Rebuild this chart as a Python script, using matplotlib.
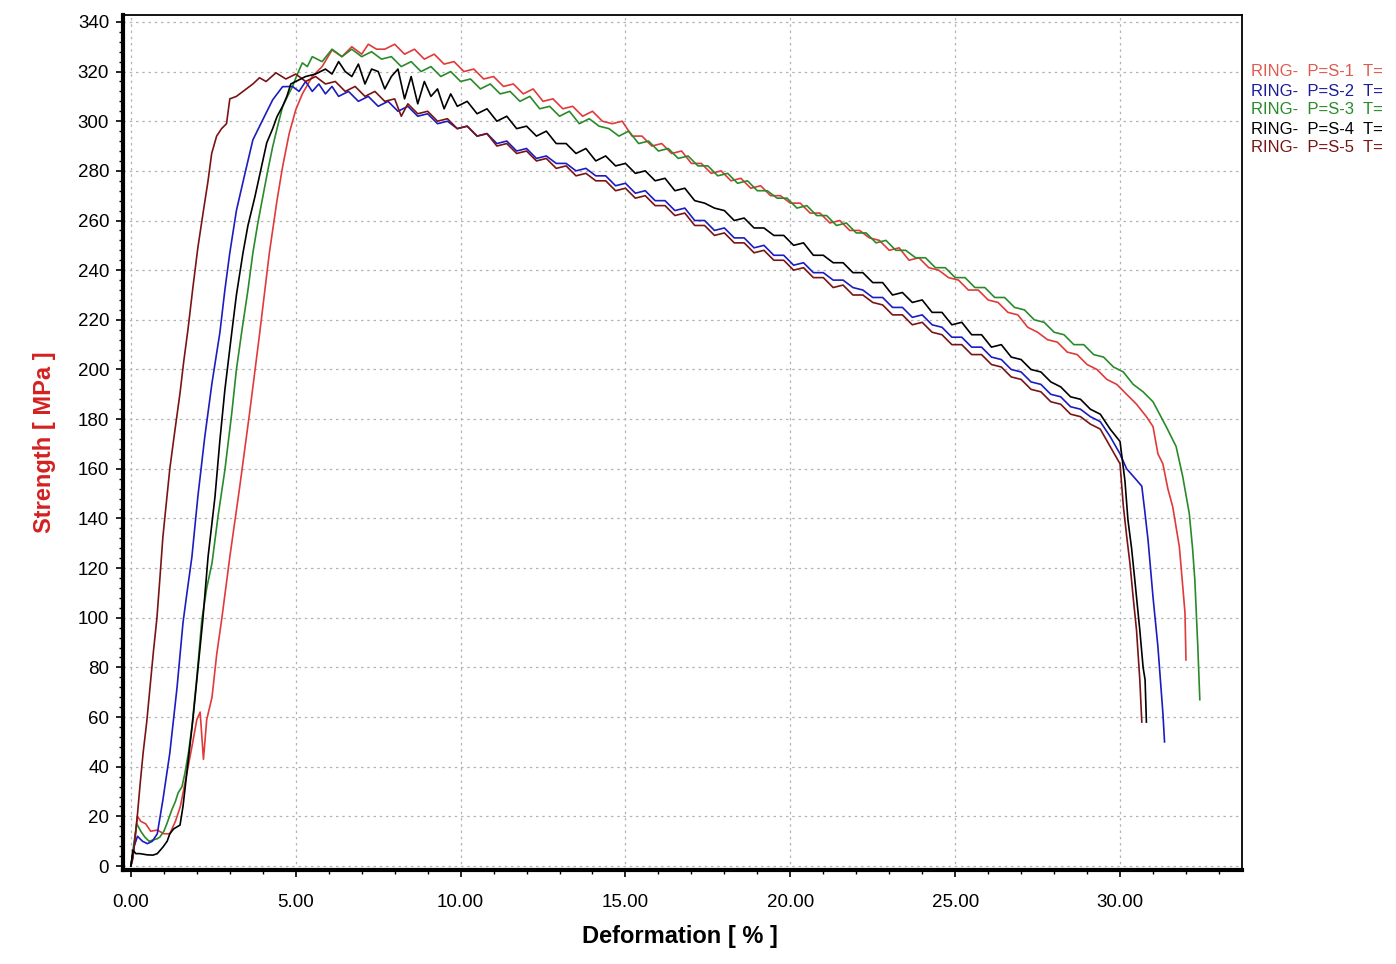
import matplotlib
matplotlib.use("Agg")
import matplotlib.pyplot as plt
from matplotlib.ticker import MultipleLocator, FormatStrFormatter

plt.rcParams["font.family"] = ["Liberation Sans", "DejaVu Sans"]

# ring test curves, deformation [%] vs strength [MPa]
s1_x = [0, 0.1, 0.2, 0.3, 0.45, 0.6, 0.8, 1.0, 1.18, 1.35, 1.5, 1.7, 1.85, 2.0, 2.1, 2.2,
        2.3, 2.46, 2.6, 2.76, 3.0, 3.3, 3.6, 3.9, 4.2, 4.43, 4.6, 4.8, 5.0, 5.2, 5.5, 5.8,
        6.1, 6.4, 6.7, 7.0, 7.2, 7.45,
        7.7, 8.0, 8.3, 8.6, 8.9, 9.2, 9.5, 9.8, 10.1, 10.4, 10.7, 11.0, 11.3, 11.6, 11.9,
        12.2, 12.5, 12.8, 13.1, 13.4, 13.7, 14.0, 14.3, 14.6, 14.9, 15.2, 15.5, 15.8, 16.1,
        16.4, 16.7, 17.0, 17.3, 17.6, 17.9, 18.2, 18.5, 18.8, 19.1, 19.4, 19.7, 20.0, 20.3,
        20.6, 20.9, 21.2, 21.5, 21.8, 22.1, 22.4, 22.7, 23.0, 23.3, 23.6, 23.9, 24.2, 24.5,
        24.8, 25.1, 25.4, 25.7, 26.0, 26.3, 26.6, 26.9, 27.2, 27.5, 27.8, 28.1, 28.4, 28.7,
        29.0, 29.3, 29.6, 29.9, 30.2, 30.5, 30.8, 31.0,
        31.15, 31.3, 31.45, 31.6, 31.8, 31.9, 31.97, 32.0]
s1_y = [0, 8, 20, 18, 17, 14, 14.5, 13, 13, 18, 24, 37.5, 48, 59, 62, 43,
        59, 68, 85, 100, 124.5, 152.7, 182.5, 214, 247, 268, 281.6, 295, 304.6, 311, 318, 322,
        328.7, 326, 330, 327, 331, 329,
        329, 331, 327, 329, 325, 327, 323, 324, 320, 321, 317, 318, 314, 315, 311,
        313, 308, 309, 305, 306, 302, 304, 300, 299, 300, 294, 294, 290, 291,
        287, 288, 283, 283, 279, 280, 276, 277, 273, 274, 270, 270, 267, 267,
        263, 263, 259, 260, 256, 256, 253, 252, 248, 249, 244, 245, 241, 240,
        237, 236, 232, 232, 228, 227, 223, 222, 217, 215, 212, 211, 207, 206,
        202, 200, 196, 194, 190, 186, 181, 177,
        166, 162, 152, 144.6, 128.5, 113, 102, 83]

s2_x = [0, 0.1, 0.2, 0.35, 0.5, 0.65, 0.8, 0.97, 1.18, 1.4, 1.58, 1.7, 1.85, 2.03, 2.24,
        2.46, 2.7, 2.85, 3.0, 3.2, 3.46, 3.7, 4.0, 4.3, 4.6,
        4.9, 5.1, 5.3, 5.5, 5.7, 5.9, 6.1, 6.3, 6.6, 6.9, 7.2, 7.5, 7.8, 8.1, 8.4, 8.7, 9.0,
        9.3, 9.6, 9.9, 10.2, 10.5, 10.8, 11.1, 11.4, 11.7, 12.0, 12.3, 12.6, 12.9, 13.2,
        13.5, 13.8, 14.1, 14.4, 14.7, 15.0, 15.3, 15.6, 15.9, 16.2, 16.5, 16.8, 17.1, 17.4,
        17.7, 18.0, 18.3, 18.6, 18.9, 19.2, 19.5, 19.8, 20.1, 20.4, 20.7, 21.0, 21.3, 21.6,
        21.9, 22.2, 22.5, 22.8, 23.1, 23.4, 23.7, 24.0, 24.3, 24.6, 24.9, 25.2, 25.5, 25.8,
        26.1, 26.4, 26.7, 27.0, 27.3, 27.6, 27.9, 28.2, 28.5, 28.8, 29.1, 29.4, 29.7, 30.0,
        30.2, 30.4, 30.66, 30.75, 30.85, 31.0, 31.15, 31.3, 31.35]
s2_y = [0, 8, 12, 10, 9, 10, 13, 26.6, 45.5, 72, 98, 110, 124.5, 148.7, 172.8,
        194.6, 215, 232, 247, 264, 279, 292.5, 300.6, 308.6, 313.9,
        314, 312, 316, 312, 315, 311, 314, 310, 312, 308, 310, 306, 308, 304, 306, 302, 303,
        299, 300, 297, 298, 294, 295, 291, 292, 288, 289, 285, 286, 283, 283,
        280, 281, 278, 278, 274, 275, 271, 272, 268, 268, 264, 265, 260, 260,
        256, 257, 253, 253, 249, 250, 246, 246, 242, 243, 239, 239, 236, 236,
        233, 232, 229, 229, 225, 225, 221, 222, 218, 217, 213, 213, 209, 209,
        205, 204, 200, 199, 195, 194, 190, 189, 185, 184, 181, 179, 173, 166,
        160, 157, 153, 143, 131.3, 108.4, 88.2, 61.6, 50]

s3_x = [0, 0.1, 0.18, 0.3, 0.42, 0.55, 0.67, 0.8, 0.88, 1.0, 1.09, 1.24, 1.35, 1.43, 1.55,
        1.64, 1.75, 1.85, 2.0, 2.15, 2.3, 2.46, 2.64, 2.85, 3.06, 3.2, 3.37, 3.55, 3.7, 3.85,
        4.0, 4.15, 4.3, 4.45, 4.6, 4.75, 4.9, 5.05, 5.2, 5.35,
        5.5, 5.8, 6.1, 6.4, 6.7, 7.0, 7.3, 7.6, 7.9, 8.2, 8.5, 8.8, 9.1, 9.4, 9.7, 10.0,
        10.3, 10.6, 10.9, 11.2, 11.5, 11.8, 12.1, 12.4, 12.7, 13.0, 13.3, 13.6, 13.9, 14.2,
        14.5, 14.8, 15.1, 15.4, 15.7, 16.0, 16.3, 16.6, 16.9, 17.2, 17.5, 17.8, 18.1, 18.4,
        18.7, 19.0, 19.3, 19.6, 19.9, 20.2, 20.5, 20.8, 21.1, 21.4, 21.7, 22.0, 22.3, 22.6,
        22.9, 23.2, 23.5, 23.8, 24.1, 24.4, 24.7, 25.0, 25.3, 25.6, 25.9, 26.2, 26.5, 26.8,
        27.1, 27.4, 27.7, 28.0, 28.3, 28.6, 28.9, 29.2, 29.5, 29.8, 30.1, 30.4, 30.7, 31.0,
        31.2, 31.4, 31.7, 31.9, 32.1, 32.2, 32.27, 32.32, 32.36, 32.42]
s3_y = [0, 10, 17, 14, 11.7, 10, 10.5, 11, 11.7, 14, 17, 22.6, 26, 29.4, 32,
        37.5, 46, 56, 76, 99, 112, 122, 140.6, 159.5, 182.5, 200, 216, 232, 247, 259,
        269.5, 280, 289.7, 298, 305.8, 310, 313.9, 319, 323.5, 322,
        326, 324, 329, 326, 329, 326, 328, 325, 326, 322, 324, 320, 322, 318, 320, 316,
        317, 313, 315, 311, 312, 308, 310, 305, 306, 302, 304, 299, 301, 298,
        297, 294, 296, 291, 292, 288, 289, 285, 286, 282, 282, 278, 279, 275,
        276, 272, 272, 269, 269, 265, 266, 262, 262, 258, 259, 255, 255, 251,
        252, 248, 248, 245, 245, 241, 241, 237, 237, 233, 233, 229, 229, 225,
        224, 220, 219, 215, 214, 210, 210, 206, 205, 201, 199, 194, 191, 187,
        182, 177, 169, 157, 142, 128, 115, 100, 88, 67]

s4_x = [0, 0.03, 0.06, 0.15, 0.27, 0.5, 0.67, 0.8, 0.97, 1.1, 1.18, 1.3, 1.49, 1.58, 1.65,
        1.73, 1.88, 2.03, 2.18, 2.34, 2.45, 2.55, 2.7, 2.85, 2.95, 3.06, 3.2, 3.4, 3.55, 3.76,
        3.95, 4.12, 4.3, 4.43, 4.6, 4.73, 4.85,
        5.0, 5.3, 5.6, 5.9, 6.1, 6.3, 6.5, 6.7, 6.9, 7.1, 7.3, 7.5, 7.7, 7.9, 8.1, 8.3, 8.5,
        8.7, 8.9, 9.1, 9.3, 9.5, 9.7, 9.9, 10.2, 10.5, 10.8, 11.1, 11.4, 11.7, 12.0, 12.3,
        12.6, 12.9, 13.2, 13.5, 13.8, 14.1, 14.4, 14.7, 15.0, 15.3, 15.6, 15.9, 16.2, 16.5,
        16.8, 17.1, 17.4, 17.7, 18.0, 18.3, 18.6, 18.9, 19.2, 19.5, 19.8, 20.1, 20.4, 20.7,
        21.0, 21.3, 21.6, 21.9, 22.2, 22.5, 22.8, 23.1, 23.4, 23.7, 24.0, 24.3, 24.6, 24.9,
        25.2, 25.5, 25.8, 26.1, 26.4, 26.7, 27.0, 27.3, 27.6, 27.9, 28.2, 28.5, 28.8, 29.1,
        29.4, 29.7, 30.0,
        30.15, 30.24, 30.35, 30.45, 30.6, 30.7, 30.76, 30.8]
s4_y = [0, 3, 6.4, 5, 5, 4.5, 4.4, 5, 7.6, 10, 13, 15, 16.5, 24, 32,
        41.5, 59, 79, 99, 124.5, 137, 148.7, 171.6, 191.8, 203, 215, 230, 247, 258, 269.5,
        281, 291.3, 297, 301.8, 306, 310, 315,
        316, 318, 319, 321, 319, 324, 320, 318, 323, 315, 321, 320, 313, 318, 321, 309, 318,
        307, 316, 310, 313, 305, 311, 306, 308, 303, 305, 300, 302, 297, 298, 294,
        296, 291, 291, 287, 289, 284, 286, 282, 283, 279, 280, 276, 277, 272,
        273, 268, 267, 265, 264, 260, 261, 257, 257, 254, 254, 250, 251, 246,
        246, 243, 243, 239, 239, 235, 235, 230, 231, 227, 228, 223, 223, 218,
        219, 214, 214, 209, 210, 205, 204, 200, 199, 195, 193, 189, 188, 184,
        182, 176, 171,
        155, 139.4, 128, 115, 95, 80, 75, 58]

s5_x = [0, 0.06, 0.2, 0.28, 0.37, 0.48, 0.58, 0.68, 0.79, 0.88, 0.97, 1.08, 1.18, 1.33,
        1.49, 1.6, 1.73, 1.88, 2.03, 2.2, 2.34, 2.45, 2.6, 2.75, 2.9, 3.0, 3.2, 3.5, 3.7,
        3.9, 4.1,
        4.4, 4.7, 5.0, 5.3, 5.6, 5.9, 6.2, 6.5, 6.8, 7.1, 7.4, 7.7, 8.0, 8.2, 8.4, 8.7, 9.0,
        9.3, 9.6, 9.9, 10.2, 10.5, 10.8, 11.1, 11.4, 11.7, 12.0, 12.3, 12.6, 12.9, 13.2,
        13.5, 13.8, 14.1, 14.4, 14.7, 15.0, 15.3, 15.6, 15.9, 16.2, 16.5, 16.8, 17.1, 17.4,
        17.7, 18.0, 18.3, 18.6, 18.9, 19.2, 19.5, 19.8, 20.1, 20.4, 20.7, 21.0, 21.3, 21.6,
        21.9, 22.2, 22.5, 22.8, 23.1, 23.4, 23.7, 24.0, 24.3, 24.6, 24.9, 25.2, 25.5, 25.8,
        26.1, 26.4, 26.7, 27.0, 27.3, 27.6, 27.9, 28.2, 28.5, 28.8, 29.1, 29.4, 29.7, 30.0,
        30.1, 30.2, 30.3, 30.4, 30.5, 30.6, 30.66]
s5_y = [0, 3, 21, 33, 45.5, 58, 72, 86, 100, 116, 132.5, 147, 160, 175,
        190.5, 203, 216, 233, 249, 264, 276, 287, 294, 297, 299, 309, 310, 313, 315,
        317.5, 316,
        319.5, 317, 319, 316, 318, 315, 316, 312, 314, 310, 312, 308, 309, 302, 307, 303, 304,
        300, 301, 297, 298, 294, 295, 290, 291, 287, 288, 284, 285, 281, 282,
        278, 279, 276, 276, 272, 273, 269, 270, 266, 266, 262, 263, 258, 258,
        254, 255, 251, 251, 247, 248, 244, 244, 240, 241, 237, 237, 233, 234,
        230, 230, 227, 226, 222, 222, 218, 219, 215, 214, 210, 210, 206, 206,
        202, 201, 197, 196, 192, 191, 187, 186, 182, 181, 178, 176, 169, 162,
        145, 133, 122, 108, 95, 75, 58]

labels = ["RING-  P=S-1  T=", "RING-  P=S-2  T=", "RING-  P=S-3  T=",
          "RING-  P=S-4  T=", "RING-  P=S-5  T="]
colors = ["#e03a3a", "#1c1cc0", "#2a8a2a", "#000000", "#7a1414"]
text_colors = ["#e05a50", "#1c1c9a", "#2a8a2a", "#000000", "#7a1414"]

fig = plt.figure(figsize=(13.96, 9.64), dpi=100)
ax = fig.add_axes([0.0881, 0.0975, 0.8016, 0.887])

series = [(s1_x, s1_y), (s2_x, s2_y), (s3_x, s3_y), (s4_x, s4_y), (s5_x, s5_y)]
for i in [0, 2, 1, 4, 3]:
    ax.plot(series[i][0], series[i][1], color=colors[i], lw=1.2, zorder=3)

ax.set_xlim(-0.24, 33.7)
ax.set_ylim(-1.6, 342.8)
ax.xaxis.set_major_locator(MultipleLocator(5))
ax.xaxis.set_minor_locator(MultipleLocator(1))
ax.yaxis.set_major_locator(MultipleLocator(20))
ax.yaxis.set_minor_locator(MultipleLocator(4))
ax.xaxis.set_major_formatter(FormatStrFormatter("%.2f"))

ax.grid(True, which="major", color="#b4b4b4", lw=0.9, linestyle=(0, (2, 3)))
ax.tick_params(which="major", direction="out", length=5, width=1.2,
               labelsize=13.5, colors="black")
ax.tick_params(which="minor", direction="out", length=3, width=1)
ax.tick_params(axis="x", which="major", pad=12)
ax.tick_params(axis="y", which="major", pad=5)

ax.spines["left"].set_linewidth(3)
ax.spines["bottom"].set_linewidth(3)
ax.spines["top"].set_linewidth(1.3)
ax.spines["right"].set_linewidth(1.3)

ax.set_xlabel("Deformation [ % ]", fontsize=17, fontweight="bold")
ax.xaxis.set_label_coords(0.498, -0.064)
ax.set_ylabel("Strength [ MPa ]", fontsize=17, fontweight="bold", color="#d42020")
ax.yaxis.set_label_coords(-0.06, 0.5)

for i, lab in enumerate(labels):
    fig.text(1251 / 1396, 1 - (72 + 19 * i) / 964, lab, color=text_colors[i],
             fontsize=12, va="center", ha="left")

fig.savefig("out.png", dpi=100)
